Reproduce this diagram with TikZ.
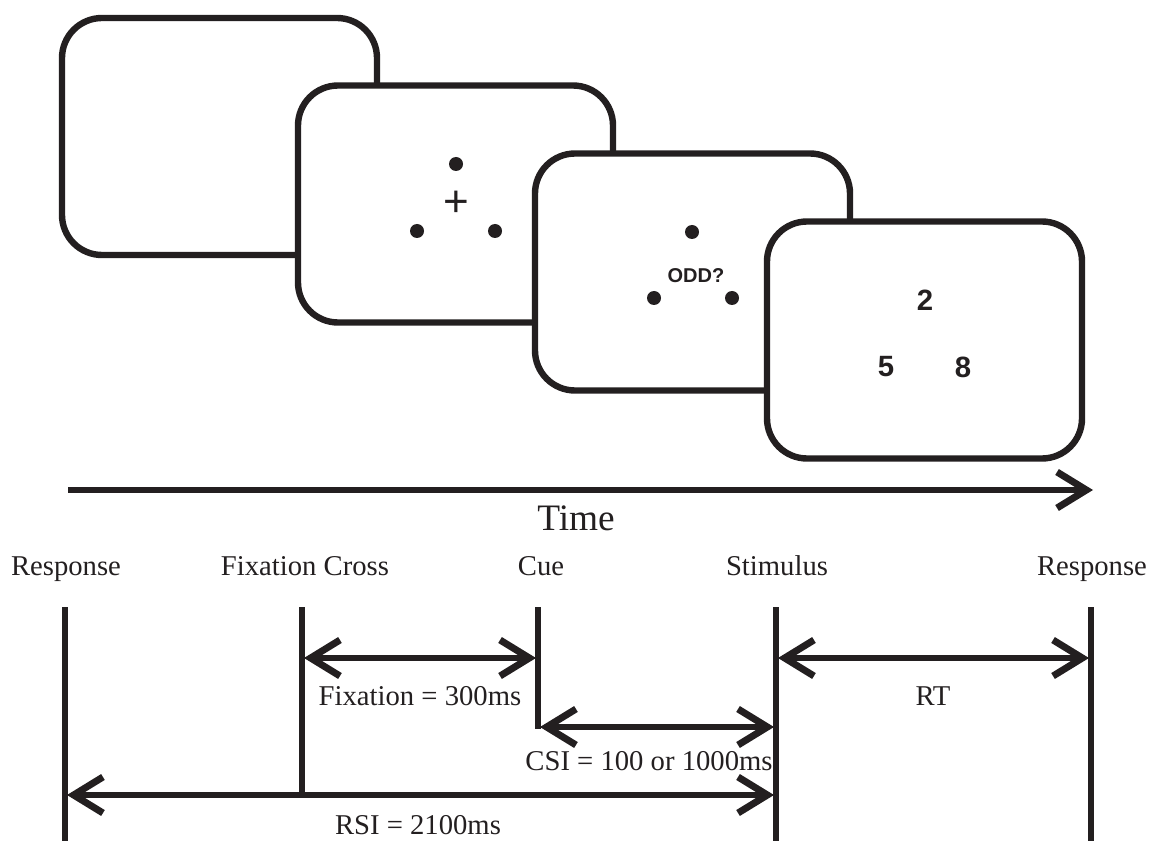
\documentclass[tikz,border=0pt]{standalone}
\usepackage{fontspec}
\setmainfont{Liberation Serif}
\newfontfamily\arialfont{Liberation Sans}
\usetikzlibrary{arrows.meta}
\definecolor{ink}{HTML}{231F20}
\begin{document}
\begin{tikzpicture}[x=0.75pt,y=-0.75pt,
  screen/.style={draw=ink, line width=4.8pt, fill=white, rounded corners=30pt,
    minimum width=236.25pt, minimum height=177.75pt, inner sep=0pt},
  dotmark/.style={circle, fill=ink, minimum size=10.5pt, inner sep=0pt},
  tick/.style={draw=ink, line width=5pt},
  barb/.tip={Straight Barb[length=22pt,width=27pt]},
  dbl/.style={draw=ink, line width=5.2pt, barb-barb},
  timeline/.style={draw=ink, line width=5.2pt, -barb},
  lab/.style={font=\fontsize{21.5pt}{24pt}\selectfont, anchor=base, inner sep=0pt, text=ink},
  cue/.style={font=\arialfont\bfseries\fontsize{15pt}{17pt}\selectfont, inner sep=0pt, text=ink},
  num/.style={font=\arialfont\bfseries\fontsize{22pt}{26pt}\selectfont, inner sep=0pt, text=ink},
  crossmark/.style={font=\arialfont\fontsize{33pt}{36pt}\selectfont, inner sep=0pt, text=ink}
]
\useasboundingbox (0,0) rectangle (1149,841);

% screens
\node[screen] (s1) at (219.5,136.5) {};
\node[screen] (s2) at (455.5,204) {};
\node[screen] (s3) at (692.5,272) {};
\node[screen] (s4) at (924.5,340) {};

% screen 2: fixation
\node[dotmark] (s2top) at (456,164) {};
\node[dotmark] (s2left) at (417,231) {};
\node[dotmark] (s2right) at (495,231) {};
\node[crossmark] (fixcross) at (456,204) {+};

% screen 3: cue
\node[dotmark] (s3top) at (692,232) {};
\node[dotmark] (s3left) at (654,298) {};
\node[dotmark] (s3right) at (732,298) {};
\node[cue] (odd) at (696,276) {ODD?};

% screen 4: stimulus
\node[num] (n2) at (925,300) {2};
\node[num] (n5) at (886,367) {5};
\node[num] (n8) at (963,367) {8};

% time axis
\coordinate (t0) at (68,490);
\coordinate (t1) at (1093,490);
\draw[timeline] (t0) -- (t1);
\node[lab, font=\fontsize{28pt}{30pt}\selectfont] (time) at (576,530) {Time};

% event labels
\node[lab] (lresp) at (66,575) {Response};
\node[lab] (lfix) at (305,575) {Fixation Cross};
\node[lab] (lcue) at (541,575) {Cue};
\node[lab] (lstim) at (777,575) {Stimulus};
\node[lab] (lresp2) at (1092,575) {Response};

% event lines
\coordinate (rA) at (65,607);   \coordinate (rB) at (65,841);
\coordinate (fA) at (302,607);  \coordinate (fB) at (302,797);
\coordinate (cA) at (538,607);  \coordinate (cB) at (538,729);
\coordinate (sA) at (776,607);  \coordinate (sB) at (776,841);
\coordinate (qA) at (1091,607); \coordinate (qB) at (1091,841);
\draw[tick] (rA) -- (rB);
\draw[tick] (fA) -- (fB);
\draw[tick] (cA) -- (cB);
\draw[tick] (sA) -- (sB);
\draw[tick] (qA) -- (qB);

% intervals
\coordinate (fix1) at (304,658);  \coordinate (fix2) at (536,658);
\coordinate (csi1) at (540,727);  \coordinate (csi2) at (774,727);
\coordinate (rt1) at (778,658);   \coordinate (rt2) at (1089,658);
\coordinate (rsi1) at (67,795);   \coordinate (rsi2) at (774,795);
\draw[dbl] (fix1) -- (fix2);
\draw[dbl] (csi1) -- (csi2);
\draw[dbl] (rt1) -- (rt2);
\draw[dbl] (rsi1) -- (rsi2);

\node[lab] (lfixdur) at (420,705) {Fixation = 300ms};
\node[lab] (lcsi) at (649,770) {CSI = 100 or 1000ms};
\node[lab] (lrt) at (933,705) {RT};
\node[lab] (lrsi) at (418,834) {RSI = 2100ms};
\end{tikzpicture}
\end{document}
